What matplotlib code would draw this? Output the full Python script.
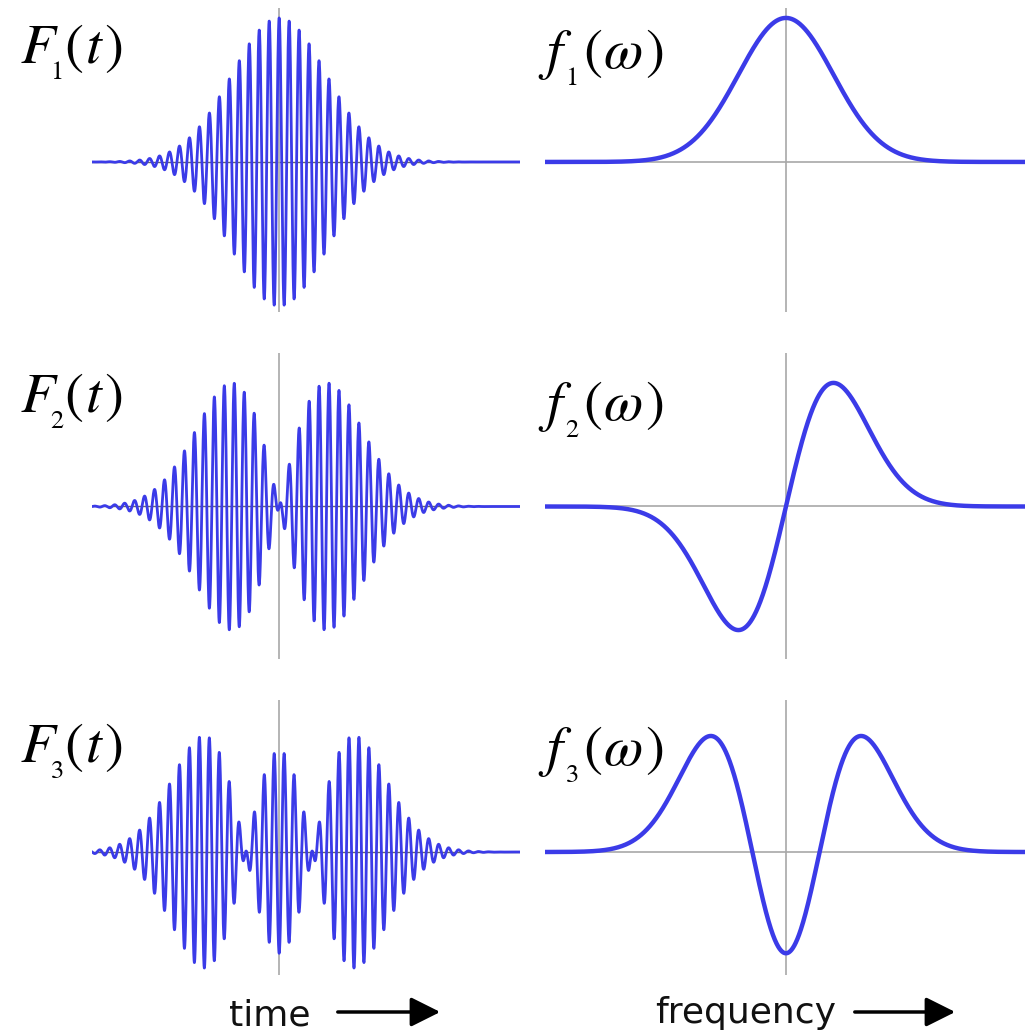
import numpy as np
import matplotlib
matplotlib.use("Agg")
import matplotlib.pyplot as plt
from matplotlib.patches import FancyArrowPatch
from numpy.polynomial import hermite

plt.rcParams["mathtext.fontset"] = "stix"

# Hermite-Gaussian modes: order n and the pieces of each row label
mode_orders = [0, 1, 2]
time_symbols = ["F", "F", "F"]
freq_symbols = ["f", "f", "f"]
subscripts = ["1", "2", "3"]
time_args = [r"(\hspace{0.05}t\hspace{0.08})"] * 3
freq_args = [r"(\hspace{0.04}\omega\hspace{0.06})"] * 3

# carrier period of the time-domain pulses (in envelope units)
carrier_period = 0.21

# axis extents (envelope units)
time_range = (-3.94, 5.07)
freq_range = (-5.07, 5.03)

# vertical limits per row, relative to the peak of |mode| = 1
row_ylims = [(-1.042, 1.069), (-1.234, 1.242), (-1.06, 1.31)]

axis_labels = ["time", "frequency"]

BLUE = "#3b3be8"
GREY = "#a8a8a8"

W, H = 1028, 1035
fig = plt.figure(figsize=(W / 100, H / 100), dpi=100)


def px_axes(x0, y0, x1, y1):
    """Axes from a pixel box (top-left origin)."""
    return fig.add_axes([x0 / W, 1 - y1 / H, (x1 - x0) / W, (y1 - y0) / H])


def px_text(x, y, s, **kw):
    fig.text(x / W, 1 - y / H, s, ha="left", va="baseline", color="black", **kw)


def mode(x, n):
    coef = np.zeros(n + 1)
    coef[n] = 1
    y = hermite.hermval(x, coef) * np.exp(-x ** 2 / 2)
    xs = np.linspace(-6, 6, 4001)
    peak = np.max(np.abs(hermite.hermval(xs, coef) * np.exp(-xs ** 2 / 2)))
    return y / peak


def math_label(x, base, sym, sub, arg, sub_dx, sub_dy, arg_dx):
    px_text(x, base, "$%s$" % sym, fontsize=41)
    px_text(x + sub_dx, base + sub_dy, r"$\mathrm{%s}$" % sub, fontsize=19)
    px_text(x + arg_dx, base, "$%s$" % arg, fontsize=41)


# pixel boxes (top, bottom) of each row and label baselines
row_boxes = [(8, 312), (353, 659), (700, 975)]
label_base = [(63, 68), (412, 420), (762, 765)]

t = np.linspace(time_range[0], time_range[1], 6000)
w = np.linspace(freq_range[0], freq_range[1], 2000)

for i, n in enumerate(mode_orders):
    top, bot = row_boxes[i]

    # time domain: envelope times carrier
    ax = px_axes(92, top, 520, bot)
    ax.axhline(0, color="#666666", lw=1.0, zorder=1)
    ax.axvline(0, color=GREY, lw=1.2, zorder=1)
    ax.plot(t, mode(t, n) * np.cos(2 * np.pi * t / carrier_period),
            color=BLUE, lw=2.0, zorder=2)
    ax.set_xlim(*time_range)
    ax.set_ylim(*row_ylims[i])
    ax.axis("off")

    # frequency domain: the mode itself
    ax2 = px_axes(545, top, 1025, bot)
    ax2.axhline(0, color=GREY, lw=1.2, zorder=1)
    ax2.axvline(0, color=GREY, lw=1.2, zorder=1)
    ax2.plot(w, mode(w, n), color=BLUE, lw=3.2, zorder=2,
             solid_capstyle="butt")
    ax2.set_xlim(*freq_range)
    ax2.set_ylim(*row_ylims[i])
    ax2.axis("off")

    math_label(20, label_base[i][0], time_symbols[i], subscripts[i],
               time_args[i], 30, 16, 44)
    math_label(538, label_base[i][1], freq_symbols[i], subscripts[i],
               freq_args[i], 27, 17, 45)

# axis captions with arrows
fig.text(270 / W, 1 - 1026 / H, axis_labels[0], fontsize=26,
         ha="center", va="baseline", color="#111111")
fig.text(746 / W, 1 - 1023 / H, axis_labels[1], fontsize=26,
         ha="center", va="baseline", color="#111111")
for x0, x1 in [(335, 443), (852, 958)]:
    fig.add_artist(FancyArrowPatch(
        (x0 / W, 1 - 1012 / H), (x1 / W, 1 - 1012 / H),
        transform=fig.transFigure,
        arrowstyle="-|>,head_length=0.9,head_width=0.45",
        mutation_scale=20, lw=2.5, color="black"))

fig.savefig("out.png", dpi=100)
